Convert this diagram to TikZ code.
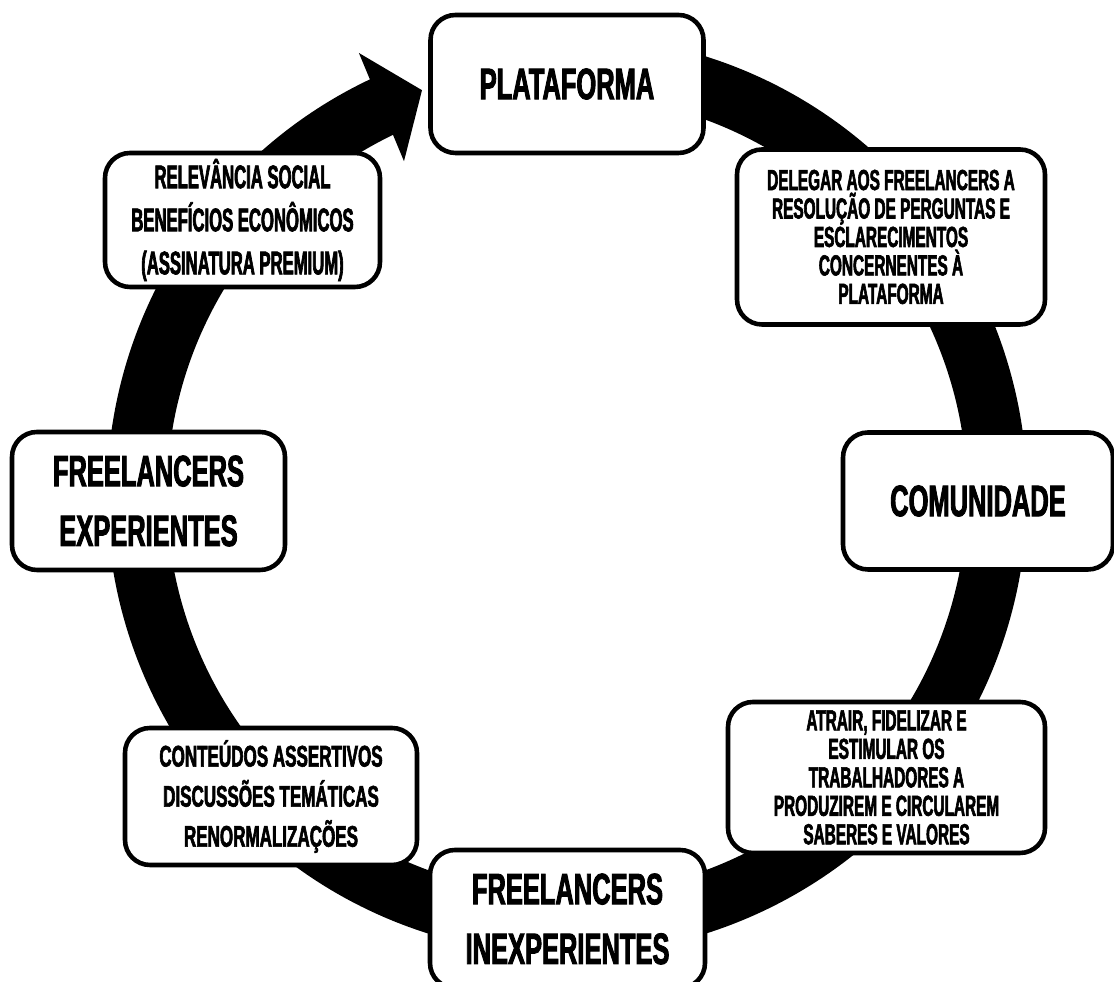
\documentclass[tikz,border=0pt]{standalone}
\usepackage{fontspec}
\setmainfont{Liberation Sans}[FakeStretch=0.55,FakeBold=2]
\newfontfamily\bigfont{Liberation Sans}[FakeStretch=0.58,FakeBold=2]
\newfontfamily\midfont{Liberation Sans}[FakeStretch=0.51,FakeBold=2]
\newfontfamily\smallfont{Liberation Sans}[FakeStretch=0.53,FakeBold=2]
\newfontfamily\contfont{Liberation Sans}[FakeStretch=0.57,FakeBold=2]
\usetikzlibrary{arrows.meta,bending}

\begin{document}
\begin{tikzpicture}[
  box/.style={draw=black, line width=2.6pt, rounded corners=0.5cm,
    fill=white, align=center, inner sep=0pt},
  bigbox/.style={box, minimum width=5.46cm, minimum height=2.76cm,
    font=\bigfont\bfseries\fontsize{25}{34}\selectfont},
  midbox/.style={box, font=\midfont\bfseries\fontsize{18.6}{24.5}\selectfont},
  smallbox/.style={box, font=\smallfont\bfseries\fontsize{16.5}{16.2}\selectfont},
  ring/.style={line width=1.2cm, -{Triangle[length=0.88cm, width=2.3cm]}}
]

  % -------- canvas --------
  \useasboundingbox (0,0) rectangle (22.28,19.64);

  % Ring behind the boxes
  \coordinate (ctr) at (11.34,9.74);
  \draw[ring] (ctr) ++(75:8.6) arc[start angle=75, end angle=-250.3, radius=8.6];

  % Main boxes
  \node[bigbox] (plat)  at (11.34,17.96) {PLATAFORMA};
  \node[bigbox, minimum width=5.4cm, minimum height=2.74cm] (comun) at (19.56,9.62) {COMUNIDADE};
  \node[bigbox, minimum width=5.5cm] (inexp) at (11.35,1.26) {FREELANCERS\\INEXPERIENTES};
  \node[bigbox] (exp)   at (2.97,9.62) {FREELANCERS\\EXPERIENTES};

  % Boxes between them
  \node[smallbox, minimum width=6.16cm, minimum height=3.5cm] (deleg) at (17.82,14.9)
    {DELEGAR AOS FREELANCERS A\\RESOLUÇÃO DE PERGUNTAS E\\ESCLARECIMENTOS\\CONCERNENTES À\\PLATAFORMA};
  \node[smallbox, minimum width=6.34cm, minimum height=3.02cm] (atrair) at (17.73,4.09)
    {ATRAIR, FIDELIZAR E\\ESTIMULAR OS\\TRABALHADORES A\\PRODUZIREM E CIRCULAREM\\SABERES E VALORES};
  \node[midbox, minimum width=5.84cm, minimum height=2.74cm,
    font=\contfont\bfseries\fontsize{17}{22.8}\selectfont] (cont) at (5.42,3.71)
    {CONTEÚDOS ASSERTIVOS\\DISCUSSÕES TEMÁTICAS\\RENORMALIZAÇÕES};
  \node[midbox, minimum width=5.5cm, minimum height=2.68cm] (relev) at (4.85,15.24)
    {RELEVÂNCIA SOCIAL\\BENEFÍCIOS ECONÔMICOS\\(ASSINATURA PREMIUM)};

\end{tikzpicture}
\end{document}
